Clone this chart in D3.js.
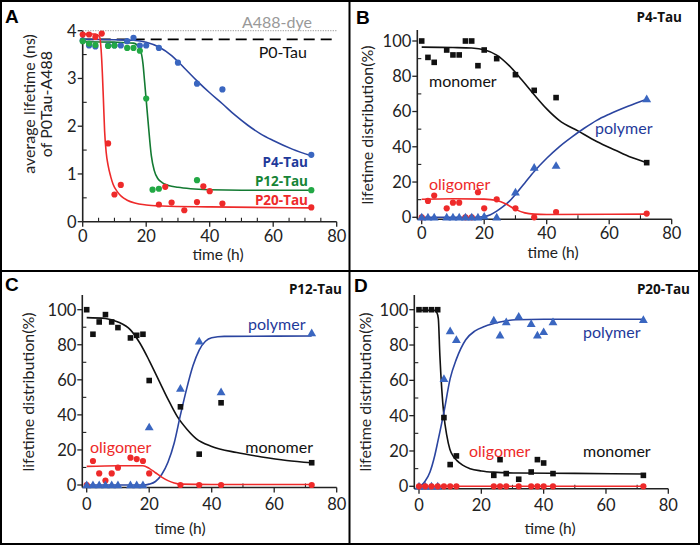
<!DOCTYPE html>
<html><head><meta charset="utf-8">
<script src="https://cdn.jsdelivr.net/npm/d3@7"></script>
<style>body{margin:0;background:#fff}svg{display:block}</style>
</head><body>
<svg id="chart" width="700" height="545"></svg>
<script>
// ---------- Panel A: average lifetime (ns) ----------
const tA_P4 = [0,2,4,8,10,12,14,16,18,20,24,30,36,44,72];
const vA_P4 = [3.80,3.69,3.67,3.69,3.69,3.69,3.78,3.85,3.69,3.69,3.64,3.33,2.89,2.77,1.40];
const tA_P12 = [0,2,4,8,10,14,16,18,20,22,24,36,72];
const vA_P12 = [3.78,3.73,3.70,3.68,3.69,3.64,3.64,3.58,2.58,0.67,0.69,0.87,0.66];
const tA_P20 = [0,2,4,6,8,10,12,24,26,28,32,36,38,40,44,72];
const vA_P20 = [3.92,3.92,3.87,3.94,1.64,0.57,0.77,0.36,0.73,0.40,0.24,0.41,0.74,0.64,0.38,0.30];
const fitA_P4_t = [0,10,16,20,24,28,32,36,40,44,48,52,56,60,66,72];
const fitA_P4_v = [3.82,3.81,3.80,3.76,3.66,3.48,3.22,2.95,2.70,2.47,2.23,2.02,1.84,1.70,1.52,1.38];
const fitA_P12_t = [0,10,16,18,19,19.5,20.6,21.6,22.5,23.7,25,27,30,34,40,50,72];
const fitA_P12_v = [3.77,3.76,3.74,3.62,3.30,2.93,2.09,1.39,1.08,0.90,0.82,0.76,0.72,0.69,0.67,0.66,0.66];
const fitA_P20_t = [0,4,5.3,5.8,6.2,6.5,6.9,7.4,8,8.8,9.6,11,12.2,14,16.4,20,25,40,72];
const fitA_P20_v = [3.93,3.93,3.88,3.60,3.10,2.60,1.90,1.45,1.18,0.95,0.78,0.62,0.53,0.45,0.39,0.35,0.33,0.31,0.29];
const A488dye = 4.0;
const P0Tau = 3.82;
const seriesNamesA = ["P4-Tau","P12-Tau","P20-Tau"];

// ---------- Panel B: P4-Tau distribution (%) ----------
const tB_mono = [0,2,4,8,10,12,14,16,18,20,24,30,36,43,72];
const vB_mono = [100,90.7,87.9,94.9,92.1,92.1,100,100,86,94.9,90,80.9,72,67.9,31];
const tB_poly = [0,2,4,8,10,12,14,16,18,20,24,30,36,43,72];
const vB_poly = [0,0,0,0,0,0,0,0,0,0.5,0,14.2,28.2,29.3,67.1];
const tB_olig = [0,2,4,8,10,12,14,16,18,20,24,30,36,43,72];
const vB_olig = [0,9.3,12.3,5.1,8.3,8.3,0,0,14.2,5.1,10.2,5.1,0,3.0,2.1];
const fitB_mono_t = [0,10,16,20,24,28,32,36,40,44,50,56,62,67,72];
const fitB_mono_v = [96.5,96.3,96,95,92,86,78,69.5,61.5,55,49,43,38,34,31];
const fitB_poly_t = [0,16,20,22,24,26,28,30,33,36,40,44,48,52,56,60,66,72];
const fitB_poly_v = [0,0,0.5,1.5,3.5,6,9,13,19.5,26,33.5,40,45.5,50.5,55,58.5,63,67];
const fitB_olig_t = [0,10,20,24,27,30,33,36,40,72];
const fitB_olig_v = [10.2,10.5,10.3,9.5,7.5,4.5,2.5,1.8,1.6,1.8];

// ---------- Panel C: P12-Tau distribution (%) ----------
const tC = [0,2,4,6,8,10,14,16,18,20,30,36,43,72];
const vC_mono = [100,86,93,97.2,93,89.8,83.9,85.4,86,59.6,44.6,17.6,46.9,12.7];
const vC_poly = [0,0,0,0,0,0,0,0,0,33,55,82,53,86.7];
const vC_olig = [0,13.7,6.6,2.5,6.6,9.9,15.6,14.8,13.7,6.6,0,0,0,0];
const fitC_mono_t = [0,6,10,14,17,20,23,26,29,32,35,40,48,56,64,72];
const fitC_mono_v = [95.5,95,93,88.5,81,71,60,49,39,32,26.5,22,18.5,16,14,12.7];
const fitC_poly_t = [0,18,20,22,24,26,28,30,32,34,36,38,40,44,72];
const fitC_poly_v = [0,0,0.5,2,6,13,24,40,55,68,77,82,84,84.8,85];
const fitC_olig_t = [0,10,18,20,22,24,26,28,30,40,72];
const fitC_olig_v = [10.6,11,11,9.5,7,4.5,2.5,1.2,0.5,0.3,0.3];

// ---------- Panel D: P20-Tau distribution (%) ----------
const tD = [0,2,4,6,8,10,12,24,26,28,32,36,38,40,43,72];
const vD_mono = [100,100,100,100,38.9,12.3,17.2,6.2,15.1,7.2,4.0,8.1,15.1,13.2,7.2,6.2];
const vD_poly = [0,0,0,0,60.9,87.9,83,94,85.5,93,96.2,92,85.5,87.4,93,94.3];
const vD_olig = [0,0,0,0,0,0,0,0,0,0,0,0,0,0,0,0];
const fitD_mono_t = [0,5,5.7,6.2,6.7,7.3,8,8.9,9.9,11,12.1,14,16.4,20,24,32,50,72];
const fitD_mono_v = [99.7,99.6,98.5,95,74,55,40,29,21,17,14.7,12,10,8.7,8,7.5,7.3,7];
const fitD_poly_t = [0,1,2,3.5,5,6,8,10,12,15,18,21,26,31,40,72];
const fitD_poly_v = [0,1,3,8,17,25,42,61,72,83,88,90.5,93,94.3,94.6,94.6];
const fitD_olig_t = [0,72];
const fitD_olig_v = [0,0];

const xTicks = [0,20,40,60,80];
const pctTicks = [0,20,40,60,80,100];
const nsTicks = [0,1,2,3,4];

// ---------- styling ----------
const FONT = "Lato, 'Open Sans', sans-serif";
const BOLDFONT = "'Open Sans', Lato, sans-serif";
const C_BLUE_L = "#2b45a0", C_BLUE_P = "#3a66c0", C_BLUE_T = "#1f3a9a";
const C_GREEN_L = "#137a32", C_GREEN_P = "#22a845", C_GREEN_T = "#168436";
const C_RED = "#ee2a2a";
const C_BLACK = "#111";

const svg = d3.select("#chart");
svg.append("rect").attr("x",1).attr("y",1).attr("width",698).attr("height",543)
  .attr("fill","none").attr("stroke","#000").attr("stroke-width",2);
svg.append("line").attr("x1",349.5).attr("x2",349.5).attr("y1",0).attr("y2",545).attr("stroke","#000").attr("stroke-width",2);
svg.append("line").attr("x1",0).attr("x2",700).attr("y1",271).attr("y2",271).attr("stroke","#000").attr("stroke-width",2);

function zipP(t,v){ return t.map((d,i)=>({t:d,v:v[i]})); }

function makeAxes(cfg){
  const g = svg.append("g");
  const x = d3.scaleLinear().domain([0,80]).range([cfg.x0,cfg.x80]);
  const y = d3.scaleLinear().domain([0,cfg.yMax]).range([cfg.y0,cfg.yTop]);
  const ax = cfg.axisX, ay = cfg.axisY;
  const stroke = "#222";
  g.append("line").attr("x1",ax).attr("x2",ax).attr("y1",ay).attr("y2",cfg.yAxisTop)
    .attr("stroke",stroke).attr("stroke-width",1.6);
  g.append("line").attr("x1",ax).attr("x2",x(80)).attr("y1",ay).attr("y2",ay)
    .attr("stroke",stroke).attr("stroke-width",1.6);
  const xMinor = d3.range(0,80.001,cfg.xMinorStep).filter(v=>!cfg.xMajor.includes(v));
  g.selectAll(null).data(cfg.xMajor).join("line")
    .attr("x1",d=>x(d)).attr("x2",d=>x(d)).attr("y1",ay).attr("y2",ay+5)
    .attr("stroke",stroke).attr("stroke-width",1.3);
  g.selectAll(null).data(xMinor).join("line")
    .attr("x1",d=>x(d)).attr("x2",d=>x(d)).attr("y1",ay).attr("y2",ay-4)
    .attr("stroke",stroke).attr("stroke-width",1.1);
  g.selectAll(null).data(cfg.xMajor).join("text")
    .attr("x",d=>x(d)).attr("y",ay+cfg.tickOff).attr("text-anchor","middle")
    .attr("font-family",FONT).attr("font-size",cfg.tickFs).attr("fill","#222").text(d=>d);
  const yMinor = d3.range(0,cfg.yMax+1e-6,cfg.yMinorStep).filter(v=>!cfg.yMajor.some(m=>Math.abs(m-v)<1e-6));
  g.selectAll(null).data(cfg.yMajor).join("line")
    .attr("x1",ax-5).attr("x2",ax).attr("y1",d=>y(d)).attr("y2",d=>y(d))
    .attr("stroke",stroke).attr("stroke-width",1.3);
  g.selectAll(null).data(yMinor).join("line")
    .attr("x1",ax).attr("x2",ax+4).attr("y1",d=>y(d)).attr("y2",d=>y(d))
    .attr("stroke",stroke).attr("stroke-width",1.1);
  g.selectAll(null).data(cfg.yMajor).join("text")
    .attr("x",ax-6).attr("y",d=>y(d)).attr("dy","0.36em").attr("text-anchor","end")
    .attr("font-family",FONT).attr("font-size",cfg.tickFs).attr("fill","#222").text(d=>d);
  g.append("text").attr("x",cfg.xTitleX).attr("y",cfg.xTitleY).attr("text-anchor","middle")
    .attr("font-family",FONT).attr("font-size",cfg.titleFs).attr("fill","#222").text("time (h)");
  cfg.yTitles.forEach(tt=>{
    g.append("text").attr("transform",`translate(${tt.x},${tt.y}) rotate(-90)`)
      .attr("text-anchor","middle").attr("dy","0.35em")
      .attr("font-family",FONT).attr("font-size",cfg.ytitleFs||16).attr("fill","#222").text(tt.text);
  });
  g.append("text").attr("x",cfg.letter.x).attr("y",cfg.letter.y)
    .attr("font-family","'Liberation Sans', Arial, sans-serif").attr("font-weight","bold")
    .attr("font-size",19).attr("fill","#000").text(cfg.letter.t);
  if(cfg.name){
    g.append("text").attr("x",cfg.name.x).attr("y",cfg.name.y).attr("text-anchor","end")
      .attr("font-family",BOLDFONT).attr("font-weight","bold").attr("font-size",13.5).attr("fill","#111").text(cfg.name.t);
  }
  return {x,y,g};
}

function drawLine(sc,t,v,color,w){
  const line = d3.line().x(d=>sc.x(d.t)).y(d=>sc.y(d.v)).curve(d3.curveMonotoneX);
  sc.g.append("path").datum(zipP(t,v)).attr("d",line).attr("fill","none")
    .attr("stroke",color).attr("stroke-width",w||1.6);
}
function drawCircles(sc,t,v,color,r){
  sc.g.selectAll(null).data(zipP(t,v)).join("circle")
    .attr("cx",d=>sc.x(d.t)).attr("cy",d=>sc.y(d.v)).attr("r",r||3.1).attr("fill",color);
}
function drawSquares(sc,t,v,color){
  const s = 5.6;
  sc.g.selectAll(null).data(zipP(t,v)).join("rect")
    .attr("x",d=>sc.x(d.t)-s/2).attr("y",d=>sc.y(d.v)-s/2).attr("width",s).attr("height",s).attr("fill",color);
}
function drawTriangles(sc,t,v,color){
  const sym = d3.symbol().type(d3.symbolTriangle).size(34);
  sc.g.selectAll(null).data(zipP(t,v)).join("path")
    .attr("transform",d=>`translate(${sc.x(d.t)},${sc.y(d.v)+0.6})`).attr("d",sym).attr("fill",color);
}
function label(sc,x,y,t,color,opts){
  opts = opts||{};
  sc.g.append("text").attr("x",x).attr("y",y).attr("dy","0.35em")
    .attr("text-anchor",opts.anchor||"start").attr("font-family",opts.bold?BOLDFONT:FONT)
    .attr("font-weight",opts.bold?"bold":"normal").attr("font-size",opts.fs||16)
    .attr("fill",color).text(t);
}

// ---------- Panel A ----------
const sA = makeAxes({x0:82.7,x80:336.7,yMax:4,y0:221.7,yTop:30.7,axisX:82.7,axisY:221.7,yAxisTop:30.7,
  xMajor:xTicks,xMinorStep:5,yMajor:nsTicks,yMinorStep:0.5,tickFs:16.5,titleFs:15.5,tickOff:20,
  xTitleX:218,xTitleY:260,
  yTitles:[{x:29,y:104,text:"average lifetime (ns)"},{x:46,y:104,text:"of P0Tau-A488"}],
  letter:{x:5,y:23,t:"A"}});
sA.g.append("line").attr("x1",sA.x(0)).attr("x2",sA.x(80)).attr("y1",sA.y(A488dye)).attr("y2",sA.y(A488dye))
  .attr("stroke","#aaa").attr("stroke-width",1.2).attr("stroke-dasharray","1.2,1.3");
sA.g.append("line").attr("x1",sA.x(0)).attr("x2",sA.x(80)).attr("y1",sA.y(P0Tau)).attr("y2",sA.y(P0Tau))
  .attr("stroke","#000").attr("stroke-width",1.8).attr("stroke-dasharray","11,6");
drawLine(sA,fitA_P4_t,fitA_P4_v,C_BLUE_L);
drawLine(sA,fitA_P12_t,fitA_P12_v,C_GREEN_L);
drawLine(sA,fitA_P20_t,fitA_P20_v,C_RED);
drawCircles(sA,tA_P4,vA_P4,C_BLUE_P);
drawCircles(sA,tA_P12,vA_P12,C_GREEN_P);
drawCircles(sA,tA_P20,vA_P20,C_RED);
label(sA,312,22,"A488-dye","#999",{anchor:"end",fs:16});
label(sA,307,52,"P0-Tau","#111",{anchor:"end",fs:16});
label(sA,308,162,seriesNamesA[0],C_BLUE_T,{anchor:"end",bold:true,fs:13.5});
label(sA,308,181,seriesNamesA[1],C_GREEN_T,{anchor:"end",bold:true,fs:13.5});
label(sA,308,200,seriesNamesA[2],C_RED,{anchor:"end",bold:true,fs:13.5});

// ---------- Panel B ----------
const sB = makeAxes({x0:421.7,x80:671.7,yMax:100,y0:217.3,yTop:41,axisX:417.3,axisY:219.3,yAxisTop:30,
  xMajor:xTicks,xMinorStep:10,yMajor:pctTicks,yMinorStep:10,tickFs:16.5,titleFs:15.5,tickOff:20,
  xTitleX:553,xTitleY:258,
  yTitles:[{x:367,y:125,text:"lifetime distribution(%)"}],
  letter:{x:356,y:24,t:"B"},name:{x:682,y:22,t:"P4-Tau"}});
drawLine(sB,fitB_mono_t,fitB_mono_v,C_BLACK);
drawLine(sB,fitB_poly_t,fitB_poly_v,C_BLUE_L);
drawLine(sB,fitB_olig_t,fitB_olig_v,C_RED);
drawSquares(sB,tB_mono,vB_mono,C_BLACK);
drawCircles(sB,tB_olig,vB_olig,C_RED);
drawTriangles(sB,tB_poly,vB_poly,C_BLUE_P);
label(sB,429,81,"monomer","#111");
label(sB,595,128,"polymer",C_BLUE_T);
label(sB,429,184,"oligomer",C_RED);

// ---------- Panel C ----------
const sC = makeAxes({x0:86.7,x80:336.7,yMax:100,y0:485,yTop:309.7,axisX:82.3,axisY:487.5,yAxisTop:295,
  xMajor:xTicks,xMinorStep:10,yMajor:pctTicks,yMinorStep:10,tickFs:16.5,titleFs:15.5,tickOff:22,
  xTitleX:180,xTitleY:534,
  yTitles:[{x:28,y:392,text:"lifetime distribution(%)"}],
  letter:{x:5,y:291,t:"C"},name:{x:342,y:294,t:"P12-Tau"}});
drawLine(sC,fitC_mono_t,fitC_mono_v,C_BLACK);
drawLine(sC,fitC_poly_t,fitC_poly_v,C_BLUE_L);
drawLine(sC,fitC_olig_t,fitC_olig_v,C_RED);
drawSquares(sC,tC,vC_mono,C_BLACK);
drawCircles(sC,tC,vC_olig,C_RED);
drawTriangles(sC,tC,vC_poly,C_BLUE_P);
label(sC,248,324,"polymer",C_BLUE_T);
label(sC,313,447,"monomer","#111",{anchor:"end"});
label(sC,90,447,"oligomer",C_RED);

// ---------- Panel D ----------
const sD = makeAxes({x0:419,x80:668.3,yMax:100,y0:486.3,yTop:309.7,axisX:414.3,axisY:488.8,yAxisTop:295,
  xMajor:xTicks,xMinorStep:10,yMajor:pctTicks,yMinorStep:10,tickFs:16.5,titleFs:15.5,tickOff:22,
  xTitleX:550,xTitleY:534,
  yTitles:[{x:365,y:392,text:"lifetime distribution(%)"}],
  letter:{x:354,y:292,t:"D"},name:{x:690,y:294,t:"P20-Tau"}});
drawLine(sD,fitD_olig_t,fitD_olig_v,C_RED);
drawLine(sD,fitD_mono_t,fitD_mono_v,C_BLACK);
drawLine(sD,fitD_poly_t,fitD_poly_v,C_BLUE_L);
drawSquares(sD,tD,vD_mono,C_BLACK);
drawTriangles(sD,tD,vD_poly,C_BLUE_P);
drawCircles(sD,tD,vD_olig,C_RED);
label(sD,583,332,"polymer",C_BLUE_T);
label(sD,469,451,"oligomer",C_RED);
label(sD,583,451,"monomer","#111");
</script>
</body></html>
